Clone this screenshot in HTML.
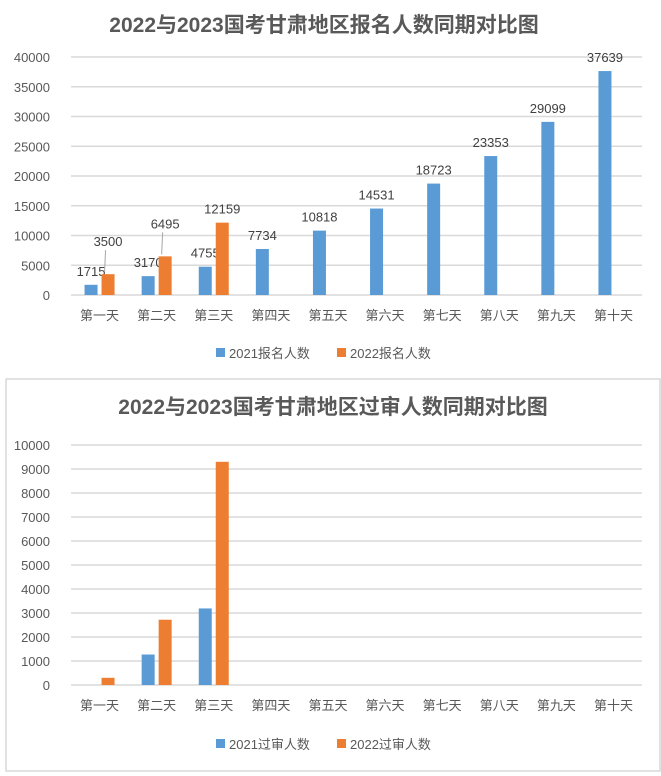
<!DOCTYPE html>
<html><head><meta charset="utf-8"><style>
html,body{margin:0;padding:0;background:#fff;}
svg{display:block;font-family:"Liberation Sans","Noto Sans CJK SC",sans-serif;}
</style></head><body>
<svg id="svg" width="661" height="776" viewBox="0 0 661 776">
<rect x="6" y="379" width="654" height="392" fill="none" stroke="#d9d9d9" stroke-width="1.5"/>
<text x="324" y="32" text-anchor="middle" font-size="21" font-weight="bold" fill="#595959" font-family="Liberation Sans,Noto Sans CJK SC,sans-serif">2022与2023国考甘肃地区报名人数同期对比图</text>
<text x="333" y="414" text-anchor="middle" font-size="21" font-weight="bold" fill="#595959">2022与2023国考甘肃地区过审人数同期对比图</text>
<g id="c1"></g><g id="c2"></g>
</svg>
<script>
const categories=["第一天","第二天","第三天","第四天","第五天","第六天","第七天","第八天","第九天","第十天"];
const reg2021=[1715,3170,4755,7734,10818,14531,18723,23353,29099,37639];
const reg2022=[3500,6495,12159,null,null,null,null,null,null,null];
const regTicks=[0,5000,10000,15000,20000,25000,30000,35000,40000];
const pass2021=[0,1270,3190,null,null,null,null,null,null,null];
const pass2022=[300,2720,9300,null,null,null,null,null,null,null];
const passTicks=[0,1000,2000,3000,4000,5000,6000,7000,8000,9000,10000];
const NS="http://www.w3.org/2000/svg";
function mk(p,t,a,txt){const e=document.createElementNS(NS,t);for(const k in a)e.setAttribute(k,a[k]);if(txt!=null)e.textContent=txt;p.appendChild(e);return e;}
function chart(g,o){
  const x0=71,x1=642,cw=(x1-x0)/categories.length;
  const y=v=>o.yb-(v/o.max)*(o.yb-o.yt);
  o.ticks.forEach(t=>{
    const l=mk(g,'line',{x1:x0,x2:x1,y1:y(t),y2:y(t),stroke:'#d9d9d9','stroke-width':1.5});
    
    
    const tx=mk(g,'text',{x:50,y:y(t)+5,'text-anchor':'end','font-size':13,fill:'#595959'},t);
    
    
  });
  categories.forEach((c,i)=>{
    const cx=x0+cw*i+cw/2;
    const t=mk(g,'text',{x:cx,y:o.lblY,'text-anchor':'middle','font-size':13,fill:'#595959'},c);
    
    
    [[o.a,'#5b9bd5',-15],[o.b,'#ed7d31',2]].forEach(([arr,col,off])=>{
      const v=arr[i]; if(v==null)return;
      const r=mk(g,'rect',{x:cx+off,y:y(v),width:13,height:o.yb-y(v),fill:col});
      
      
      if(o.labels){
        const lt=mk(g,'text',{x:cx+off+6.5+(arr===o.b&&i<2?0:0),y:y(v)-(arr===o.b&&i<2?28:9),'text-anchor':'middle','font-size':13,fill:'#404040'},v);
        
        
        if(arr===o.b&&i<2){
          const ll=mk(g,'line',{x1:cx+off+4,y1:y(v)-24,x2:cx+off+3,y2:y(v)-2,stroke:'#a6a6a6'});
          
          
        }
      }
    });
  });
  [[o.na,'#5b9bd5',216],[o.nb,'#ed7d31',337]].forEach(([n,col,lx])=>{
    const r=mk(g,'rect',{x:lx,y:o.legY-10,width:9,height:9,fill:col});
    
    
    const t=mk(g,'text',{x:lx+13,y:o.legY,'font-size':13,fill:'#595959'},n);
    
    
  });
}
chart(document.getElementById('c1'),{a:reg2021,b:reg2022,ticks:regTicks,max:40000,yt:57,yb:295,lblY:320,legY:358,labels:true,na:'2021报名人数',nb:'2022报名人数'});
chart(document.getElementById('c2'),{a:pass2021,b:pass2022,ticks:passTicks,max:10000,yt:445,yb:685,lblY:710,legY:749,labels:false,na:'2021过审人数',nb:'2022过审人数'});
</script>
</body></html>
